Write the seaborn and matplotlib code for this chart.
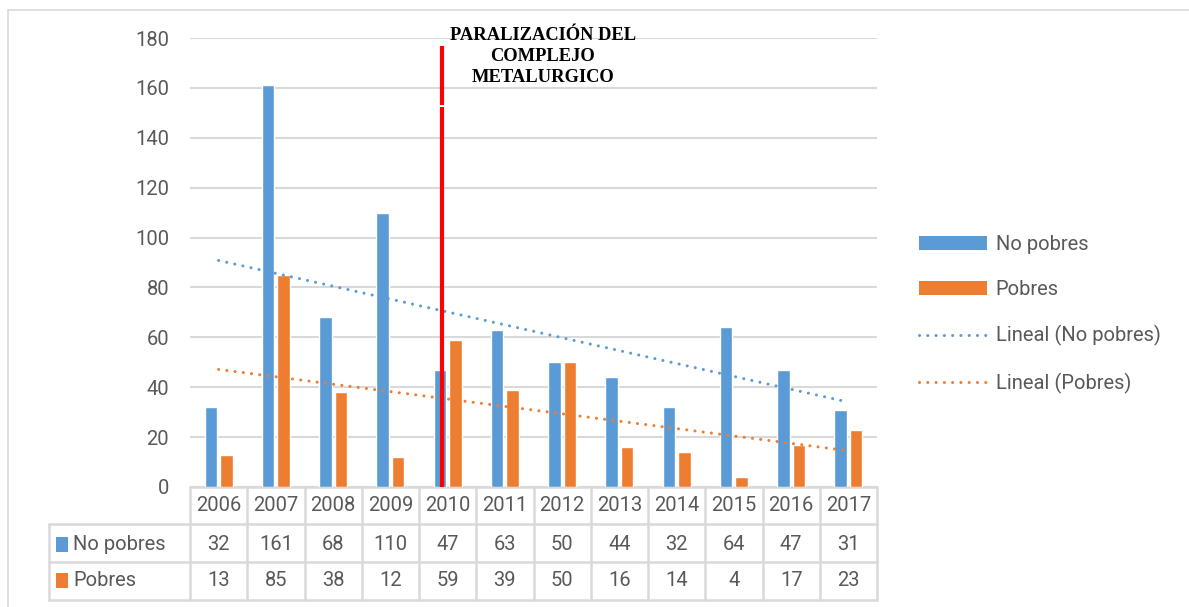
import matplotlib
matplotlib.use("Agg")
import matplotlib.pyplot as plt
import matplotlib.transforms as mtransforms
from matplotlib.patches import Rectangle, Patch
from matplotlib.lines import Line2D
import seaborn as sns
import pandas as pd
import numpy as np

# data
years = ["2006", "2007", "2008", "2009", "2010", "2011",
         "2012", "2013", "2014", "2015", "2016", "2017"]
no_pobres = [32, 161, 68, 110, 47, 63, 50, 44, 32, 64, 47, 31]
pobres = [13, 85, 38, 12, 59, 39, 50, 16, 14, 4, 17, 23]
series_names = ["No pobres", "Pobres"]
event_label = "PARALIZACIÓN DEL\nCOMPLEJO\nMETALURGICO"
y_ticks = [0, 20, 40, 60, 80, 100, 120, 140, 160, 180]

BLUE = "#5B9BD5"
ORANGE = "#ED7D31"
GREY_TXT = "#595959"
GRID = "#D9D9D9"
FS = 14.5

sns.set_style("white")
plt.rcParams["font.family"] = ["Roboto", "DejaVu Sans"]

df = pd.DataFrame({
    "Año": years * 2,
    "Valor": no_pobres + pobres,
    "Grupo": [series_names[0]] * len(years) + [series_names[1]] * len(years),
})

fig = plt.figure(figsize=(11.89, 6.07), dpi=100)
W, H = 1189, 607
ax = fig.add_axes([190 / W, 120 / H, 687 / W, 449 / H])

sns.barplot(data=df, x="Año", y="Valor", hue="Grupo", order=years,
            hue_order=series_names, palette=[BLUE, ORANGE], saturation=1,
            width=0.54, gap=0.2, legend=False, ax=ax, zorder=2)

# linear trend lines
xs = np.arange(len(years))
for vals, col in [(no_pobres, BLUE), (pobres, ORANGE)]:
    k, b = np.polyfit(xs, vals, 1)
    ax.plot(xs, k * xs + b, color=col, lw=2.2, linestyle=(0, (0.01, 2.7)),
            dash_capstyle="round", zorder=3)

ax.set_xlim(-0.5, len(years) - 0.5)
ax.set_ylim(0, 180)
ax.set_yticks(y_ticks)
ax.set_xticks([])
ax.set_xlabel("")
ax.set_ylabel("")
ax.tick_params(axis="y", length=0, pad=15, labelsize=FS, labelcolor=GREY_TXT)
for s in ax.spines.values():
    s.set_visible(False)
ax.yaxis.grid(True, color=GRID, lw=1.5)
ax.set_axisbelow(True)

# red vertical marker
xr = 3.9
ax.plot([xr, xr], [0, 152.3], color="#FF0000", lw=3, solid_capstyle="butt", zorder=4)
ax.plot([xr, xr], [153.2, 176.8], color="#FF0000", lw=3, solid_capstyle="butt", zorder=4)
ax.text(5.66, 172.6, event_label, ha="center", va="center", multialignment="center",
        family="Liberation Serif", fontweight="bold", fontsize=13.3, color="black",
        linespacing=1.28, clip_on=False, zorder=5)

# data table under the axis
tr = mtransforms.blended_transform_factory(ax.transData, ax.transAxes)
row_y = [0, -0.0824, -0.167, -0.2517]
x_left = -2.963
x_right = len(years) - 0.5
lkw = dict(color=GRID, lw=1.8, transform=tr, clip_on=False, zorder=1)
ax.plot([-0.5, x_right], [0, 0], **lkw)
for y in row_y[1:]:
    ax.plot([x_left, x_right], [y, y], **lkw)
ax.plot([x_left, x_left], [row_y[1], row_y[3]], **lkw)
for i in range(len(years) + 1):
    ax.plot([i - 0.5, i - 0.5], [0, row_y[3]], **lkw)

tkw = dict(transform=tr, ha="center", va="center", fontsize=FS, color=GREY_TXT, clip_on=False)
for i, yr in enumerate(years):
    ax.text(i, -0.0416, yr, **tkw)
    ax.text(i, -0.127, str(no_pobres[i]), **tkw)
    ax.text(i, -0.209, str(pobres[i]), **tkw)

for name, col, yc in [(series_names[0], BLUE, -0.127), (series_names[1], ORANGE, -0.209)]:
    ax.add_patch(Rectangle((-2.84, yc - 0.0167), 0.21, 0.0334, facecolor=col,
                           edgecolor="none", transform=tr, clip_on=False))
    ax.text(-2.54, yc, name, transform=tr, ha="left", va="center", fontsize=FS,
            color=GREY_TXT, clip_on=False)

# legend
handles = [
    Patch(facecolor=BLUE, edgecolor="none", label=series_names[0]),
    Patch(facecolor=ORANGE, edgecolor="none", label=series_names[1]),
    Line2D([0], [0], color=BLUE, lw=2.2, linestyle=(0, (0.01, 2.7)),
           dash_capstyle="round", label="Lineal (No pobres)"),
    Line2D([0], [0], color=ORANGE, lw=2.2, linestyle=(0, (0.01, 2.7)),
           dash_capstyle="round", label="Lineal (Pobres)"),
]
fig.legend(handles=handles, loc="upper left", bbox_to_anchor=(919 / W, 1 - 235 / H),
           frameon=False, fontsize=FS, labelcolor=GREY_TXT, borderpad=0,
           borderaxespad=0, handlelength=3.4, handleheight=0.7,
           handletextpad=0.4, labelspacing=1.3)

# outer chart border (top and left visible)
fig.add_artist(Line2D([8 / W, 1], [1 - 10 / H, 1 - 10 / H], color=GRID, lw=1.2))
fig.add_artist(Line2D([8 / W, 8 / W], [0, 1 - 10 / H], color=GRID, lw=1.2))

fig.savefig("out.png", dpi=100, facecolor="white")
